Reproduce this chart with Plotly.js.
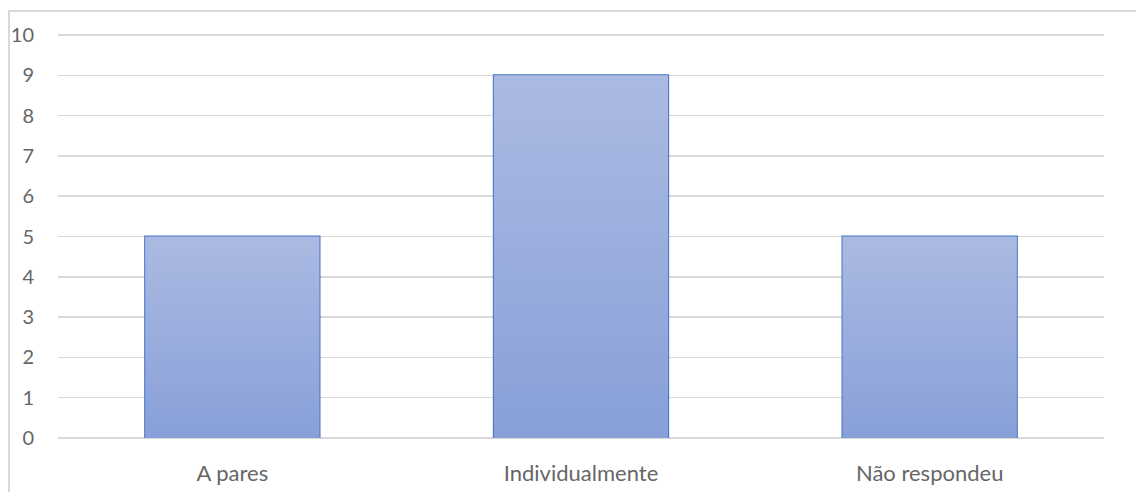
<!DOCTYPE html>
<html>
<head>
<meta charset="utf-8">
<script src="https://cdn.plot.ly/plotly-3.0.1.min.js"></script>
<style>
  html, body { margin: 0; padding: 0; background: #ffffff; overflow: hidden; }
  #frame { position: absolute; left: 8px; top: 10px; width: 1300px; height: 700px; border: 2px solid #d9d9d9; box-sizing: border-box; }
  #chart { position: absolute; left: 0; top: 0; width: 1136px; height: 492px; }
</style>
</head>
<body>
<div id="frame"></div>
<div id="chart"></div>
<script>
const categories = ["A pares", "Individualmente", "Não respondeu"];
const values = [5, 9, 5];
const yTicks = [0, 1, 2, 3, 4, 5, 6, 7, 8, 9, 10];

const positions = categories.map((c, i) => i);
const barWidth = 0.5;

// Gradient fills behind each bar (derived from the data arrays)
const gradientTraces = values.map((v, i) => ({
  type: "scatter",
  mode: "none",
  x: [positions[i] - barWidth / 2, positions[i] + barWidth / 2, positions[i] + barWidth / 2, positions[i] - barWidth / 2, positions[i] - barWidth / 2],
  y: [0, 0, v, v, 0],
  fill: "toself",
  fillcolor: "#9aacdc",
  fillgradient: {
    type: "vertical",
    colorscale: [[0, "#88a0d8"], [1, "#abbae2"]]
  },
  hoverinfo: "skip",
  showlegend: false
}));

const barTrace = {
  type: "bar",
  x: positions,
  y: values,
  width: barWidth,
  marker: { color: "rgba(0,0,0,0)", line: { color: "#4472c4", width: 2 } },
  hovertext: categories,
  showlegend: false
};

const layout = {
  width: 1136,
  height: 492,
  margin: { l: 58, r: 32, t: 33, b: 54 },
  paper_bgcolor: "rgba(0,0,0,0)",
  plot_bgcolor: "rgba(0,0,0,0)",
  font: { family: "Lato, 'Open Sans', sans-serif", size: 22, color: "#666666" },
  xaxis: {
    range: [-0.5, 2.5],
    tickmode: "array",
    tickvals: positions,
    ticktext: categories,
    showgrid: false,
    zeroline: false,
    showline: false,
    ticks: "",
    ticklabelstandoff: 20,
    fixedrange: true
  },
  yaxis: {
    range: [0, 10.05],
    tickmode: "array",
    tickvals: yTicks,
    tickfont: { size: 20 },
    showgrid: true,
    gridcolor: "#d9d9d9",
    gridwidth: 1.5,
    zeroline: true,
    zerolinecolor: "#d9d9d9",
    zerolinewidth: 1.5,
    showline: false,
    ticks: "",
    ticklabelstandoff: 23,
    fixedrange: true
  },
  showlegend: false
};

Plotly.newPlot("chart", gradientTraces.concat([barTrace]), layout, { displayModeBar: false, staticPlot: true });
</script>
</body>
</html>
